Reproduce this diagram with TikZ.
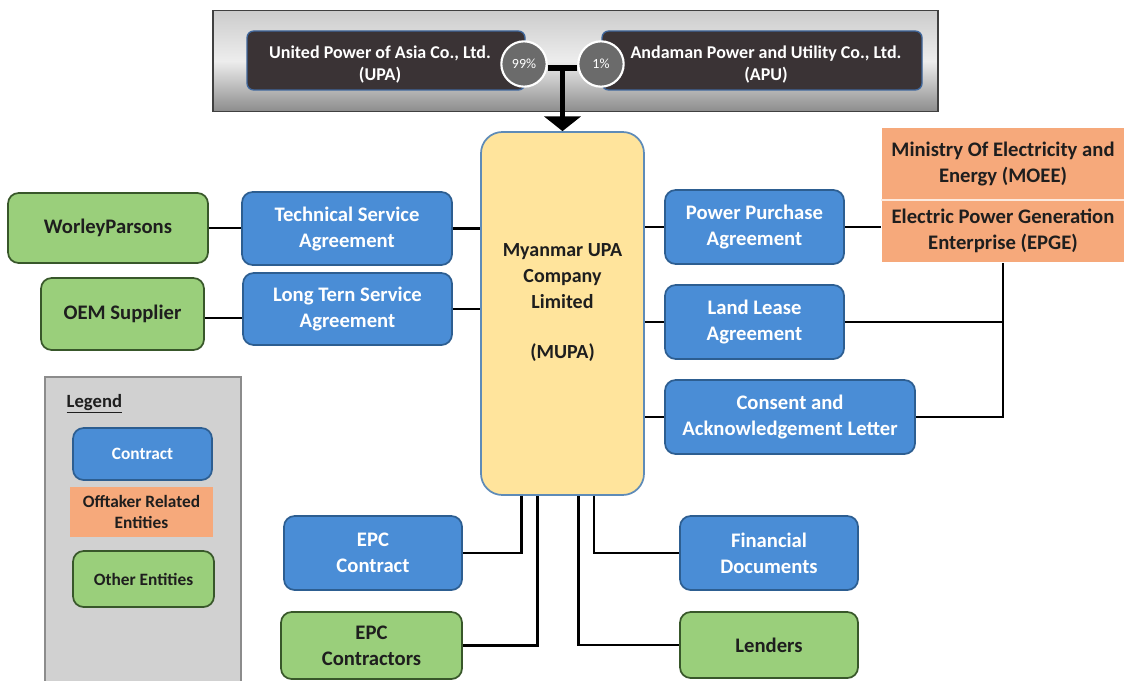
\documentclass[tikz,border=0pt]{standalone}
\usepackage{fontspec}
\setmainfont{Carlito}
\usetikzlibrary{arrows.meta,calc}
\definecolor{cblue}{HTML}{4A8DD6}
\definecolor{cblueD}{HTML}{2D5E91}
\definecolor{cgreen}{HTML}{9ACF7B}
\definecolor{cgreenD}{HTML}{38572A}
\definecolor{corange}{HTML}{F6A97B}
\definecolor{cyellow}{HTML}{FFE49C}
\definecolor{cyellowD}{HTML}{5E8BB8}
\definecolor{cdark}{HTML}{3A3335}
\definecolor{cdarkB}{HTML}{3F679C}
\definecolor{ctext}{HTML}{1E1E1E}
\tikzset{
  base/.style={rounded corners=8pt, line width=1.3pt, align=center, inner sep=0pt,
    font=\bfseries\fontsize{15.5}{19.5}\selectfont},
  contract/.style={base, fill=cblue, draw=cblueD, text=white},
  other/.style={base, fill=cgreen, draw=cgreenD, text=ctext},
  offtaker/.style={base, rounded corners=0pt, fill=corange, draw=none, text=ctext},
  small/.style={font=\bfseries\fontsize{13}{15.5}\selectfont},
  owner/.style={rounded corners=5pt, fill=cdark, draw=cdarkB, line width=1pt, inner sep=0pt},
  ownertext/.style={text=white, align=center, font=\bfseries\fontsize{13.5}{16.5}\selectfont},
  pct/.style={circle, fill=black!58, draw=white, line width=1.6pt, minimum size=34pt,
    inner sep=0pt, text=white, font=\fontsize{10.5}{12}\selectfont},
  link/.style={line width=2pt, black},
}
\newcommand\bx[7]{\node[#2, minimum width={(#5-#3)*0.75pt}, minimum height={(#6-#4)*0.75pt}] (#1) at ({(#3+#5)/2},{(#4+#6)/2}) {#7};}
\begin{document}
\begin{tikzpicture}[x=0.75pt, y=-0.75pt]
\useasboundingbox (0,0) rectangle (1124,681);
\clip (0,0) rectangle (1124,681);
% top band
\node[draw=black!75, line width=0.8pt, top color=black!20, bottom color=black!45, middle color=black!7,
  minimum width={725*0.75pt}, minimum height={101*0.75pt}, inner sep=0pt] (band) at (575.5,61) {};
\bx{upa}{owner}{247}{31}{525}{90}{}
\bx{apu}{owner}{602}{31}{922}{90}{}
\node[ownertext] (upatext) at ($(upa.center)+(-6,4)$) {United Power of Asia Co., Ltd.\\(UPA)};
\node[ownertext] (aputext) at ($(apu.center)+(4,4)$) {Andaman Power and Utility Co., Ltd.\\(APU)};
\node[pct] (c99) at (524,64) {99\%};
\node[pct] (c1) at (601,64) {1\%};
% MUPA
\bx{mupa}{base, rounded corners=16pt, fill=cyellow, draw=cyellowD}{481}{132}{644}{495}{}
\node[align=center, text=ctext, font=\bfseries\fontsize{15}{19.5}\selectfont] (mupatext)
  at ($(mupa.center)+(0,-11)$) {Myanmar UPA\\Company\\Limited\\[18pt](MUPA)};
\draw[line width=3.8pt] ([yshift=-3pt]c99.east) -- ([yshift=-3pt]c1.west);
\draw[line width=3.8pt, -{Triangle[width=27pt,length=11pt]}] ($(c99.east)!0.5!(c1.west)+(0,4)$) -- (mupa.north -| {$(c99.east)!0.5!(c1.west)$});
% left
\bx{wp}{other}{8}{193}{208}{263}{WorleyParsons}
\bx{tsa}{contract}{242}{192}{452}{265}{Technical Service\\Agreement}
\bx{oem}{other}{41}{278}{204}{350}{OEM Supplier}
\bx{lts}{contract}{243}{273}{452}{345}{Long Tern Service\\Agreement}
% right
\bx{ppa}{contract}{665}{190}{844}{264}{Power Purchase\\Agreement}
\bx{moee}{offtaker}{882}{128}{1124}{199}{Ministry Of Electricity and\\Energy (MOEE)}
\bx{epge}{offtaker}{882}{199}{1124}{262}{Electric Power Generation\\Enterprise (EPGE)}
\draw[white!75!corange, line width=1.2pt] (moee.south west) -- (moee.south east);
\bx{lla}{contract}{665}{285}{844}{359}{Land Lease\\Agreement}
\bx{cal}{contract}{665}{380}{915}{454}{Consent and\\Acknowledgement Letter}
% bottom
\bx{epc}{contract}{284}{516}{462}{590}{EPC\\Contract}
\bx{epcs}{other}{281}{612}{462}{679}{EPC\\Contractors}
\bx{fin}{contract}{680}{516}{858}{590}{Financial\\Documents}
\bx{len}{other}{680}{612}{858}{678}{Lenders}
% legend
\node[fill=black!18, draw=black!45, line width=1.5pt, minimum width={196*0.75pt}, minimum height={320*0.75pt},
  inner sep=0pt] (legend) at (143,537) {};
\node[anchor=west, text=ctext, font=\bfseries\fontsize{14}{17}\selectfont] (legtitle) at (62,404) {\underline{Legend}};
\bx{lc}{contract, small}{73}{428}{212}{480}{Contract}
\bx{lo}{offtaker, small}{70}{487}{213}{537}{Offtaker Related\\Entities}
\bx{lg}{other, small}{73}{551}{214}{607}{Other Entities}
% connectors
\draw[link] (wp.east) -- (wp.east -| tsa.west);
\draw[link] (tsa.east) -- (tsa.east -| mupa.west);
\draw[link] ([yshift=-3pt]oem.east) -- ([yshift=-3pt]oem.east -| lts.west);
\draw[link] (lts.east) -- (lts.east -| mupa.west);
\draw[link] (mupa.east |- ppa.west) -- (ppa.west);
\draw[link] (ppa.east) -- (ppa.east -| epge.west);
\draw[link] (mupa.east |- lla.west) -- (lla.west);
\draw[link] (mupa.east |- cal.west) -- (cal.west);
\draw[link] (epge.south) -- (epge.south |- cal.east) -- (cal.east);
\draw[link] (lla.east) -- (lla.east -| epge.south);
\draw[link] ([xshift=-31pt]mupa.south) |- (epc.east);
\draw[link] ([xshift=-19pt]mupa.south) |- (epcs.east);
\draw[link] ([xshift=12pt]mupa.south) |- (len.west);
\draw[link] ([xshift=23.5pt]mupa.south) |- (fin.west);
\end{tikzpicture}
\end{document}
